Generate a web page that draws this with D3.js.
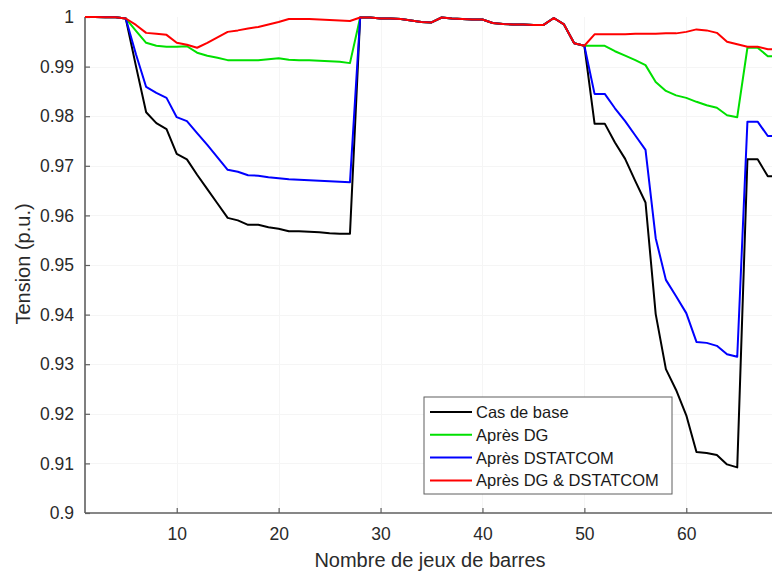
<!DOCTYPE html>
<html>
<head>
<meta charset="utf-8">
<script src="https://cdn.jsdelivr.net/npm/d3@7"></script>
<style>
  html, body { margin: 0; padding: 0; background: #fff; overflow: hidden; }
  svg { display: block; font-family: "Liberation Sans", Arial, sans-serif; }
</style>
</head>
<body>
<svg id="chart" width="772" height="573"></svg>
<script>
// Bus numbers of the 69-bus feeder
const buses = d3.range(1, 70);

// Voltage profile (p.u.) for each scenario, bus 1..69
const casDeBase = [
  1.0000, 1.0000, 0.99997, 0.99993, 0.9997, 0.9901, 0.9808, 0.9786, 0.9774, 0.9724,
  0.9713, 0.9682, 0.9653, 0.9624, 0.9595, 0.9590, 0.9581, 0.9581, 0.9576, 0.9573,
  0.9568, 0.9568, 0.9567, 0.9566, 0.9564, 0.9563, 0.9563, 0.9999, 0.9999, 0.9997,
  0.9997, 0.9996, 0.9993, 0.9990, 0.9989, 0.9999, 0.9997, 0.9996, 0.9995, 0.9995,
  0.9988, 0.9986, 0.9985, 0.9985, 0.9984, 0.9984, 0.9998, 0.9985, 0.9947, 0.9942,
  0.9785, 0.9785, 0.9747, 0.9714, 0.9669, 0.9626, 0.9401, 0.9290, 0.9248, 0.9197,
  0.9123, 0.9121, 0.9117, 0.9098, 0.9092, 0.9713, 0.9713, 0.9679, 0.9679
];
const apresDG = [
  1.0000, 1.0000, 0.99997, 0.99993, 0.9997, 0.9972, 0.9948, 0.9942, 0.9940, 0.9940,
  0.9941, 0.9928, 0.9922, 0.9918, 0.9913, 0.9913, 0.9913, 0.9913, 0.9915, 0.9917,
  0.9914, 0.9913, 0.9913, 0.9912, 0.9911, 0.9910, 0.9907, 0.9999, 0.9999, 0.9997,
  0.9997, 0.9996, 0.9993, 0.9990, 0.9989, 0.9999, 0.9997, 0.9996, 0.9995, 0.9995,
  0.9988, 0.9986, 0.9985, 0.9985, 0.9984, 0.9984, 0.9998, 0.9985, 0.9947, 0.9942,
  0.9942, 0.9942, 0.9931, 0.9922, 0.9913, 0.9903, 0.9869, 0.9851, 0.9842, 0.9837,
  0.9829, 0.9822, 0.9817, 0.9802, 0.9798, 0.9938, 0.9938, 0.9921, 0.9921
];
const apresDSTATCOM = [
  1.0000, 1.0000, 0.99997, 0.99993, 0.9997, 0.9925, 0.9859, 0.9847, 0.9837, 0.9798,
  0.9790, 0.9766, 0.9742, 0.9717, 0.9692, 0.9688, 0.9681, 0.9680, 0.9677, 0.9675,
  0.9673, 0.9672, 0.9671, 0.9670, 0.9669, 0.9668, 0.9667, 0.9999, 0.9999, 0.9997,
  0.9997, 0.9996, 0.9993, 0.9990, 0.9989, 0.9999, 0.9997, 0.9996, 0.9995, 0.9995,
  0.9988, 0.9986, 0.9985, 0.9985, 0.9984, 0.9984, 0.9998, 0.9985, 0.9947, 0.9942,
  0.9845, 0.9845, 0.9816, 0.9790, 0.9761, 0.9732, 0.9554, 0.9470, 0.9437, 0.9403,
  0.9345, 0.9343, 0.9337, 0.9320, 0.9315, 0.9789, 0.9789, 0.9760, 0.9760
];
const apresDGDSTATCOM = [
  1.0000, 1.0000, 0.99997, 0.99993, 0.9997, 0.9984, 0.9968, 0.9966, 0.9964, 0.9948,
  0.9944, 0.9938, 0.9948, 0.9959, 0.9970, 0.9973, 0.9977, 0.9980, 0.9985, 0.9990,
  0.9996, 0.9996, 0.9996, 0.9995, 0.9994, 0.9993, 0.9992, 0.9999, 0.9999, 0.9997,
  0.9997, 0.9996, 0.9993, 0.9990, 0.9989, 0.9999, 0.9997, 0.9996, 0.9995, 0.9995,
  0.9988, 0.9986, 0.9985, 0.9985, 0.9984, 0.9984, 0.9998, 0.9985, 0.9947, 0.9942,
  0.9965, 0.9965, 0.9965, 0.9965, 0.9966, 0.9966, 0.9966, 0.9967, 0.9967, 0.9970,
  0.9975, 0.9973, 0.9968, 0.9950, 0.9945, 0.9940, 0.9940, 0.9935, 0.9935
];

const seriesNames = ["Cas de base", "Après DG", "Après DSTATCOM", "Après DG & DSTATCOM"];
const seriesColors = ["#000000", "#00e000", "#0000ff", "#ff0000"];
const seriesValues = [casDeBase, apresDG, apresDSTATCOM, apresDGDSTATCOM];

const xTicks = [10, 20, 30, 40, 50, 60];
const yTicks = [0.9, 0.91, 0.92, 0.93, 0.94, 0.95, 0.96, 0.97, 0.98, 0.99, 1];

const svg = d3.select("#chart");
const plotL = 85, plotR = 778, plotT = 17, plotB = 513;

const x = d3.scaleLinear().domain([1, 69]).range([plotL, plotR]);
const y = d3.scaleLinear().domain([0.9, 1]).range([plotB, plotT]);

// very light grid
const grid = svg.append("g").attr("stroke", "#f5f5f5").attr("stroke-width", 1);
grid.selectAll("line.gy").data(yTicks.slice(1, -1)).join("line")
  .attr("x1", plotL).attr("x2", plotR)
  .attr("y1", d => Math.round(y(d)) + 0.5).attr("y2", d => Math.round(y(d)) + 0.5);
grid.selectAll("line.gx").data(xTicks).join("line")
  .attr("y1", plotT).attr("y2", plotB)
  .attr("x1", d => Math.round(x(d)) + 0.5).attr("x2", d => Math.round(x(d)) + 0.5);

svg.append("defs").append("clipPath").attr("id", "plotClip")
  .append("rect").attr("x", plotL).attr("y", plotT - 6).attr("width", plotR - plotL).attr("height", plotB - plotT + 6);

// axes
const axisColor = "#5f5f5f";
const xAxis = svg.append("g").attr("transform", `translate(0,${plotB})`)
  .call(d3.axisBottom(x).tickValues(xTicks).tickSize(-5).tickPadding(15).tickFormat(d3.format("d")));
const yAxis = svg.append("g").attr("transform", `translate(${plotL},0)`)
  .call(d3.axisLeft(y).tickValues(yTicks).tickSize(-5).tickPadding(11).tickFormat(d => String(+d.toFixed(2))));

[xAxis, yAxis].forEach(g => {
  g.select(".domain").attr("stroke", axisColor).attr("stroke-width", 1.6);
  g.selectAll(".tick line").attr("stroke", axisColor).attr("stroke-width", 1.2);
  g.selectAll(".tick text").attr("fill", "#2a2a2a").attr("font-size", 17.5)
    .attr("font-family", "Liberation Sans, Arial, sans-serif");
});
xAxis.select(".domain").attr("d", `M${plotL},0H${plotR}`);
yAxis.select(".domain").attr("d", `M0,${plotB}V${plotT}`);

// lines
const line = d3.line().x((d, i) => x(buses[i])).y(d => y(d));
const plot = svg.append("g").attr("clip-path", "url(#plotClip)");
seriesValues.forEach((vals, k) => {
  plot.append("path").datum(vals)
    .attr("fill", "none").attr("stroke", seriesColors[k])
    .attr("stroke-width", 2).attr("stroke-linejoin", "round")
    .attr("d", line);
});

// axis titles
svg.append("text").attr("x", 430).attr("y", 567).attr("text-anchor", "middle")
  .attr("font-size", 20).attr("fill", "#2a2a2a").text("Nombre de jeux de barres");
svg.append("text").attr("transform", "translate(30,264) rotate(-90)").attr("text-anchor", "middle")
  .attr("font-size", 20).attr("fill", "#2a2a2a").text("Tension (p.u.)");

// legend
const lg = svg.append("g").attr("transform", "translate(424,397)");
lg.append("rect").attr("width", 248).attr("height", 97).attr("fill", "#fff")
  .attr("stroke", "#5f5f5f").attr("stroke-width", 1);
seriesNames.forEach((name, k) => {
  const yy = 15 + k * 22.8;
  lg.append("line").attr("x1", 6).attr("x2", 48).attr("y1", yy).attr("y2", yy)
    .attr("stroke", seriesColors[k]).attr("stroke-width", 2);
  lg.append("text").attr("x", 52).attr("y", yy + 6).attr("font-size", 16.5)
    .attr("textLength", null)
    .attr("fill", "#1a1a1a").text(name);
});
</script>
</body>
</html>
